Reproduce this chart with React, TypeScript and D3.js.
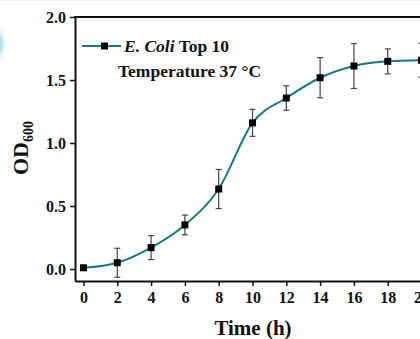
import React, { useEffect, useRef } from "react";
import * as d3 from "d3";

const times = [0, 2, 4, 6, 8, 10, 12, 14, 16, 18, 20];
const od600 = [0.01, 0.05, 0.17, 0.35, 0.635, 1.16, 1.357, 1.518, 1.611, 1.648, 1.656];
const odError = [0.01, 0.115, 0.095, 0.078, 0.155, 0.107, 0.097, 0.159, 0.178, 0.099, 0.135];
const xTicks = [0, 2, 4, 6, 8, 10, 12, 14, 16, 18, 20];
const yTicks = [0, 0.5, 1.0, 1.5, 2.0];

const App = () => {
  const svgRef = useRef<SVGSVGElement>(null);

  useEffect(() => {
    const width = 420;
    const height = 339;
    const font = "'Liberation Serif', 'Times New Roman', serif";
    const lineColor = "#16788a";

    const root = d3.select(svgRef.current);
    root.selectAll("*").remove();
    root.attr("width", width).attr("height", height);

    // blurred bit of the neighbouring panel on the left edge
    const defs = root.append("defs");
    defs
      .append("filter")
      .attr("id", "blur")
      .append("feGaussianBlur")
      .attr("stdDeviation", 2.5);
    root
      .append("ellipse")
      .attr("cx", -3)
      .attr("cy", 44)
      .attr("rx", 6)
      .attr("ry", 13)
      .attr("fill", "#a3dbe6")
      .attr("filter", "url(#blur)");
    root
      .append("line")
      .attr("x1", 0)
      .attr("x2", width)
      .attr("y1", 0.5)
      .attr("y2", 0.5)
      .attr("stroke", "#eef2f7")
      .attr("stroke-width", 1.5);

    const x = d3.scaleLinear().domain([-0.5, 20.5]).range([75, 430]);
    const y = d3.scaleLinear().domain([-0.095, 2.0]).range([281, 17]);

    const data = times.map((t, i) => ({ t, v: od600[i], e: odError[i] }));

    // Axes
    const xAxis = root
      .append("g")
      .attr("transform", `translate(0, ${y.range()[0]})`)
      .call(
        d3
          .axisBottom(x)
          .tickValues(xTicks)
          .tickSize(5)
          .tickSizeOuter(0)
          .tickPadding(6)
          .tickFormat(d3.format("d"))
      );
    xAxis.select(".domain").attr("stroke", "#111").attr("stroke-width", 2);
    xAxis.selectAll(".tick line").attr("stroke", "#111").attr("stroke-width", 1.5);
    xAxis
      .selectAll(".tick text")
      .attr("fill", "#111")
      .style("font-family", font)
      .style("font-size", "16px")
      .style("font-weight", "bold");

    const yAxis = root
      .append("g")
      .attr("transform", `translate(${x.range()[0]}, 0)`)
      .call(
        d3
          .axisLeft(y)
          .tickValues(yTicks)
          .tickSize(5)
          .tickSizeOuter(0)
          .tickPadding(4)
          .tickFormat(d3.format(".1f"))
      );
    yAxis.select(".domain").attr("stroke", "#111").attr("stroke-width", 2);
    yAxis.selectAll(".tick line").attr("stroke", "#111").attr("stroke-width", 1.5);
    yAxis
      .selectAll(".tick text")
      .attr("fill", "#111")
      .style("font-family", font)
      .style("font-size", "16px")
      .style("font-weight", "bold");

    // top frame
    root
      .append("line")
      .attr("x1", x.range()[0] - 1)
      .attr("x2", width)
      .attr("y1", y.range()[1])
      .attr("y2", y.range()[1])
      .attr("stroke", "#111")
      .attr("stroke-width", 2);

    // Curve
    const line = d3
      .line<{ t: number; v: number }>()
      .x((d) => x(d.t))
      .y((d) => y(d.v))
      .curve(d3.curveMonotoneX);

    root
      .append("path")
      .datum(data)
      .attr("d", line)
      .attr("fill", "none")
      .attr("stroke", lineColor)
      .attr("stroke-width", 2);

    // Error bars
    const bars = root.append("g").attr("stroke", "#444").attr("stroke-width", 1.2);
    data.forEach((d) => {
      const cx = x(d.t);
      const top = y(d.v + d.e);
      const bottom = y(d.v - d.e);
      bars.append("line").attr("x1", cx).attr("x2", cx).attr("y1", top).attr("y2", bottom);
      bars.append("line").attr("x1", cx - 3).attr("x2", cx + 3).attr("y1", top).attr("y2", top);
      bars
        .append("line")
        .attr("x1", cx - 3)
        .attr("x2", cx + 3)
        .attr("y1", bottom)
        .attr("y2", bottom);
    });

    // Markers
    root
      .append("g")
      .selectAll("rect")
      .data(data)
      .join("rect")
      .attr("x", (d) => x(d.t) - 3.5)
      .attr("y", (d) => y(d.v) - 3.5)
      .attr("width", 7)
      .attr("height", 7)
      .attr("fill", "#000");

    // Legend
    root
      .append("line")
      .attr("x1", 82)
      .attr("x2", 121)
      .attr("y1", 46)
      .attr("y2", 46)
      .attr("stroke", lineColor)
      .attr("stroke-width", 2);
    root
      .append("rect")
      .attr("x", 101)
      .attr("y", 42.5)
      .attr("width", 7)
      .attr("height", 7)
      .attr("fill", "#000");

    const legendText = root
      .append("text")
      .attr("x", 124)
      .attr("y", 52)
      .attr("fill", "#111")
      .style("font-family", font)
      .style("font-size", "17.5px")
      .style("font-weight", "bold");
    legendText.append("tspan").style("font-style", "italic").text("E. Coli");
    legendText.append("tspan").text(" Top 10");

    root
      .append("text")
      .attr("x", 118)
      .attr("y", 77)
      .attr("fill", "#111")
      .style("font-family", font)
      .style("font-size", "17.5px")
      .style("font-weight", "bold")
      .text("Temperature 37 \u00B0C");

    // Axis titles
    root
      .append("text")
      .attr("x", 253)
      .attr("y", 335)
      .attr("text-anchor", "middle")
      .attr("fill", "#111")
      .style("font-family", font)
      .style("font-size", "21px")
      .style("font-weight", "bold")
      .text("Time (h)");

    const yTitle = root
      .append("text")
      .attr("transform", "translate(28, 148) rotate(-90)")
      .attr("text-anchor", "middle")
      .attr("fill", "#111")
      .style("font-family", font)
      .style("font-size", "22px")
      .style("font-weight", "bold");
    yTitle.append("tspan").text("OD");
    yTitle
      .append("tspan")
      .attr("dy", 5)
      .style("font-size", "14px")
      .text("600");
  }, []);

  return (
    <div
      style={{
        position: "fixed",
        left: 0,
        top: 0,
        width: 420,
        height: 339,
        overflow: "hidden",
        background: "#fff",
      }}
    >
      <svg ref={svgRef} style={{ display: "block" }}></svg>
    </div>
  );
};

export default App;
